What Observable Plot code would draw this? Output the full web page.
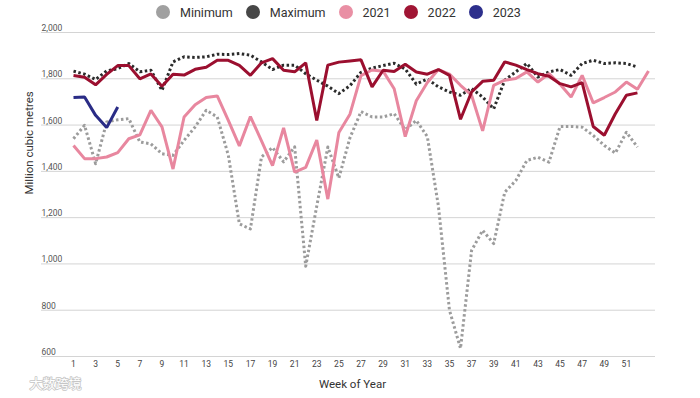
<!DOCTYPE html>
<html>
<head>
<meta charset="utf-8">
<script src="https://cdn.jsdelivr.net/npm/d3@7"></script>
<script src="https://cdn.jsdelivr.net/npm/@observablehq/plot@0.6"></script>
<style>
  html, body { margin: 0; padding: 0; background: #fff; }
  body { width: 700px; height: 398px; overflow: hidden; font-family: Roboto, "Noto Sans", sans-serif; }
  #legend { height: 24px; display: flex; align-items: center; padding-left: 156px; font-size: 12.5px; color: #333; }
  #legend .item { display: flex; align-items: center; margin-right: 13px; }
  #legend .sw { width: 14px; height: 14px; border-radius: 50%; margin-right: 10px; }
  #chart svg { display: block; }
</style>
</head>
<body>
<div id="legend"></div>
<div id="chart"></div>
<script>
// ---- Data (million cubic metres, by week of year) ----
const weeks = [1,2,3,4,5,6,7,8,9,10,11,12,13,14,15,16,17,18,19,20,21,22,23,24,25,26,27,28,29,30,31,32,33,34,35,36,37,38,39,40,41,42,43,44,45,46,47,48,49,50,51,52,53];

const minimum = [1541,1599,1433,1613,1623,1628,1527,1519,1476,1469,1534,1592,1664,1635,1470,1173,1151,1462,1503,1441,1506,990,1250,1505,1371,1545,1658,1635,1635,1649,1580,1620,1550,1250,800,635,1058,1145,1088,1310,1360,1447,1461,1440,1594,1594,1591,1555,1512,1479,1569,1505];

const maximum = [1833,1820,1797,1834,1844,1866,1830,1837,1750,1873,1895,1892,1895,1906,1905,1909,1902,1873,1840,1859,1859,1822,1794,1768,1736,1770,1828,1846,1857,1867,1842,1777,1799,1765,1743,1729,1758,1721,1670,1794,1830,1866,1808,1830,1840,1815,1866,1880,1866,1869,1866,1851];

const y2021 = [1512,1455,1455,1462,1481,1541,1558,1664,1592,1410,1635,1688,1719,1726,1620,1510,1637,1532,1425,1588,1397,1417,1535,1280,1568,1647,1814,1838,1833,1757,1550,1705,1784,1840,1820,1772,1729,1575,1772,1794,1801,1830,1786,1822,1776,1721,1815,1696,1719,1743,1786,1755,1834];

const y2022 = [1814,1807,1774,1819,1857,1857,1800,1821,1768,1820,1816,1841,1850,1880,1880,1858,1815,1869,1887,1837,1830,1869,1620,1859,1872,1877,1882,1765,1837,1831,1863,1829,1820,1840,1815,1625,1743,1789,1794,1873,1859,1840,1822,1811,1779,1765,1783,1594,1556,1649,1729,1739];

const y2023 = [1719,1721,1642,1589,1678];

const seriesNames = ["Minimum", "Maximum", "2021", "2022", "2023"];
const lineColors  = ["#9c9c9c", "#2b2b2b", "#e8879f", "#9b0f2f", "#2a2c86"];
const swatchColors = ["#a0a0a0", "#474747", "#e98fa4", "#a01534", "#2d2f8c"];

const yTicks = [600, 800, 1000, 1200, 1400, 1600, 1800, 2000];
const xTicks = [1,3,5,7,9,11,13,15,17,19,21,23,25,27,29,31,33,35,37,39,41,43,45,47,49,51];

// ---- Build tidy rows ----
const allValues = [minimum, maximum, y2021, y2022, y2023];
const rows = [];
allValues.forEach((vals, si) => {
  vals.forEach((v, i) => rows.push({series: seriesNames[si], week: weeks[i], value: v}));
});
const bySeries = name => rows.filter(r => r.series === name);

// ---- Legend ----
const legend = document.getElementById("legend");
seriesNames.forEach((n, i) => {
  const it = document.createElement("div");
  it.className = "item";
  it.innerHTML = `<span class="sw" style="background:${swatchColors[i]}"></span><span>${n}</span>`;
  legend.appendChild(it);
});

// ---- Chart ----
const dotted = {strokeWidth: 3, strokeDasharray: "2.5,2.5", strokeLinecap: "butt"};
const solid = {strokeWidth: 3, strokeLinejoin: "miter", strokeLinecap: "butt"};

const chart = Plot.plot({
  width: 700,
  height: 374,
  marginLeft: 41,
  marginRight: 45,
  marginTop: 8,
  marginBottom: 42,
  x: {domain: [1, 53], range: [73, 648]},
  y: {domain: [600, 2000]},
  style: {fontFamily: "Roboto, 'Noto Sans', sans-serif", background: "#fff", overflow: "visible"},
  marks: [
    Plot.ruleY(yTicks, {stroke: "#d4d4d4", strokeWidth: 1}),
    Plot.axisY(yTicks, {
      tickSize: 0, tickPadding: 0, textAnchor: "start", lineAnchor: "bottom", dy: -1.5,
      tickFormat: d3.format(","), fontSize: 8.5, fill: "#555", label: null
    }),
    Plot.axisX(xTicks, {tickSize: 0, tickPadding: 4, fontSize: 8.5, fill: "#444", label: null}),
    Plot.text(["Week of Year"], {frameAnchor: "bottom", dx: 4, dy: 31, fontSize: 11.5, fill: "#333"}),
    Plot.text(["Million cubic metres"], {frameAnchor: "left", dx: -12, rotate: -90, fontSize: 11.5, fill: "#333"}),
    Plot.text(["大数跨境"], {
      frameAnchor: "bottom-left", dx: -12, dy: 31, textAnchor: "start", fontSize: 13,
      fill: "#fff", stroke: "#c6c6c6", strokeWidth: 1.6, fontFamily: "'Noto Sans CJK SC', sans-serif"
    }),
    Plot.line(bySeries("Minimum"), {x: "week", y: "value", stroke: lineColors[0], ...dotted}),
    Plot.line(bySeries("Maximum"), {x: "week", y: "value", stroke: lineColors[1], ...dotted}),
    Plot.line(bySeries("2021"), {x: "week", y: "value", stroke: lineColors[2], ...solid}),
    Plot.line(bySeries("2022"), {x: "week", y: "value", stroke: lineColors[3], ...solid}),
    Plot.line(bySeries("2023"), {x: "week", y: "value", stroke: lineColors[4], ...solid})
  ]
});
document.getElementById("chart").appendChild(chart);
</script>
</body>
</html>
